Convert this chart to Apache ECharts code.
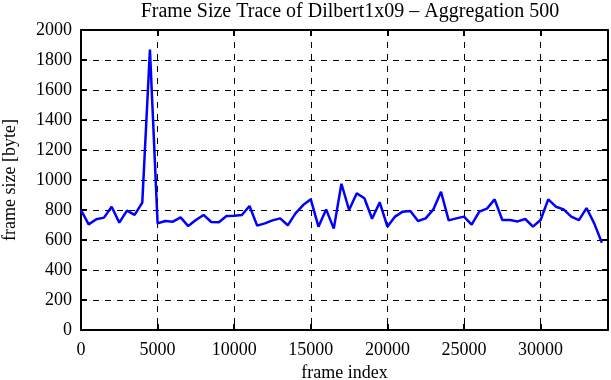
<!DOCTYPE html>
<html lang="en">
<head>
<meta charset="utf-8">
<title>Frame Size Trace</title>
<script src="https://cdn.jsdelivr.net/npm/echarts@6/dist/echarts.min.js"></script>
<style>
  html, body { margin: 0; padding: 0; background: #fff; }
  #chart { width: 611px; height: 380px; }
</style>
</head>
<body>
<div id="chart"></div>
<script>
// frames are aggregated in blocks of 500, one point per block
var AGGREGATION = 500;
var frameSizes = [
  800, 704, 738, 749, 822, 716, 796, 767, 849, 1870,
  711, 727, 722, 751, 693, 733, 767, 720, 718, 760,
  762, 767, 827, 696, 711, 731, 744, 698, 778, 833,
  871, 689, 804, 676, 975, 800, 911, 878, 742, 851,
  689, 756, 789, 793, 727, 744, 804, 922, 731, 744,
  756, 702, 789, 809, 871, 733, 733, 724, 740, 689,
  733, 871, 822, 804, 756, 733, 813, 711, 582
];
var xMax = 34400;
var yMax = 2000;

var points = [];
for (var i = 0; i < frameSizes.length; i++) {
  points.push([i * AGGREGATION, frameSizes[i]]);
}

var font = '"Liberation Serif", "Times New Roman", serif';
var labelStyle = { color: '#000', fontFamily: font, fontSize: 18 };
var dashed = { show: true, lineStyle: { color: '#000', type: [6, 6], width: 1 } };
var plain = function (v) { return String(v); };

function xAxisCfg(pos, main) {
  return {
    type: 'value', position: pos, min: 0, max: xMax, interval: 5000,
    name: main ? 'frame index' : '', nameLocation: 'middle', nameGap: 31,
    nameTextStyle: labelStyle,
    axisLine: { show: true, onZero: false, lineStyle: { color: '#000', width: 2 } },
    axisTick: { show: true, inside: true, length: 6, lineStyle: { color: '#000', width: 2 } },
    axisLabel: { show: main, margin: 11, showMaxLabel: false, formatter: plain, color: '#000', fontFamily: font, fontSize: 18 },
    splitLine: main ? dashed : { show: false }
  };
}
function yAxisCfg(pos, main) {
  return {
    type: 'value', position: pos, min: 0, max: yMax, interval: 200,
    name: main ? 'frame size [byte]' : '', nameLocation: 'middle', nameGap: 62, nameRotate: 90,
    nameTextStyle: labelStyle,
    axisLine: { show: true, onZero: false, lineStyle: { color: '#000', width: 2 } },
    axisTick: { show: true, inside: true, length: 6, lineStyle: { color: '#000', width: 2 } },
    axisLabel: { show: main, margin: 9, formatter: plain, color: '#000', fontFamily: font, fontSize: 18 },
    splitLine: main ? dashed : { show: false }
  };
}

var myChart = echarts.init(document.getElementById('chart'));
myChart.setOption({
  animation: false,
  title: {
    text: 'Frame Size Trace of Dilbert1x09 \u2013 Aggregation 500',
    left: 345, textAlign: 'center', top: -3,
    textStyle: { color: '#000', fontFamily: font, fontSize: 20, fontWeight: 'normal' }
  },
  grid: { left: 81, right: 3, top: 30, bottom: 50, outerBoundsMode: 'none', containLabel: false },
  xAxis: [xAxisCfg('bottom', true), xAxisCfg('top', false)],
  yAxis: [yAxisCfg('left', true), yAxisCfg('right', false)],
  series: [{
    type: 'line',
    data: points,
    showSymbol: false,
    lineStyle: { color: '#0000ff', width: 2.5 },
    itemStyle: { color: '#0000ff' }
  }]
});
</script>
</body>
</html>
